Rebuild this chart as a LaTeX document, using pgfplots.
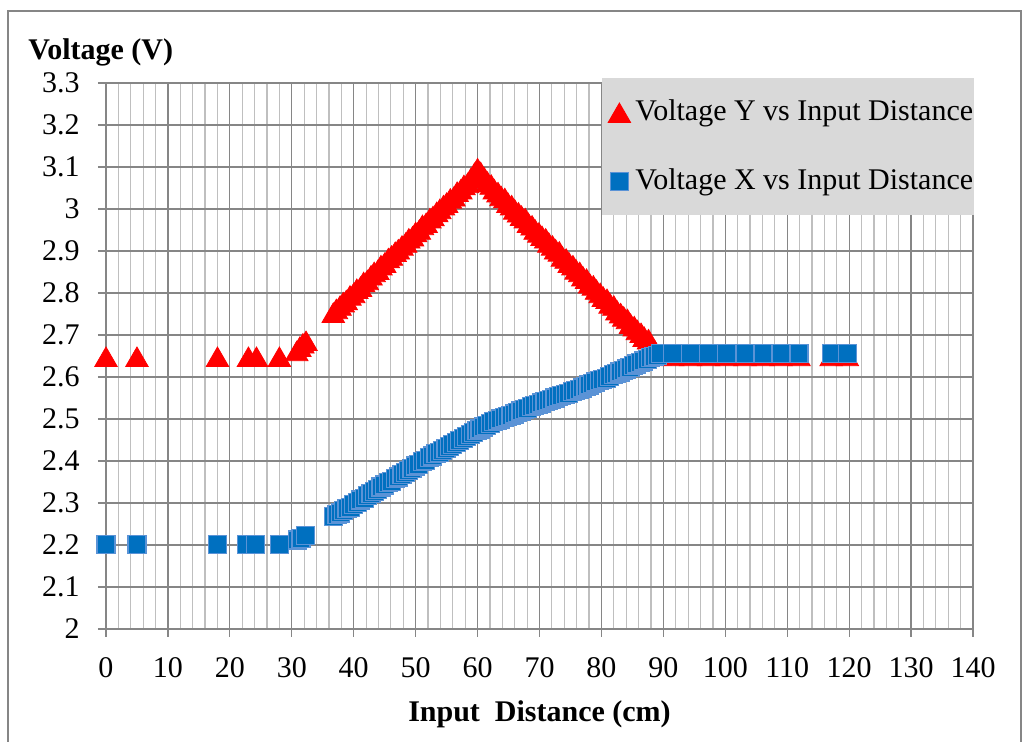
\documentclass[border=0pt]{standalone}
\usepackage{pgfplots}
\usepackage{pgfplotstable}
\pgfplotsset{compat=1.18}
\usepackage{fontspec}
\setmainfont{Liberation Serif}
\definecolor{axgray}{HTML}{868686}
\definecolor{mingray}{HTML}{BFBFBF}
\definecolor{leggray}{HTML}{D9D9D9}
\definecolor{sqfill}{HTML}{0070C0}
\definecolor{sqdraw}{HTML}{5B93D6}
\pgfplotsset{singlemark/.style={legend image code/.code={\draw[##1] plot coordinates {(0pt,0pt)};}}}

\pgfplotstableread{
x y
0 2.648
5 2.648
18 2.648
23 2.648
24.3 2.648
28 2.648
30.8 2.662
31.3 2.672
31.8 2.680
32.3 2.686
36.7 2.753
37.2 2.762
37.8 2.770
38.3 2.778
38.8 2.783
39.4 2.794
40.0 2.800
40.5 2.810
41.1 2.815
41.6 2.826
42.2 2.831
42.8 2.842
43.3 2.850
43.9 2.855
44.4 2.866
45.0 2.872
45.6 2.883
46.1 2.889
46.7 2.898
47.2 2.904
47.8 2.913
48.4 2.920
48.9 2.930
49.5 2.935
50.0 2.945
50.6 2.951
51.1 2.962
51.7 2.967
52.3 2.978
52.8 2.983
53.4 2.993
53.9 3.000
54.5 3.009
55.0 3.015
55.6 3.025
56.2 3.030
56.7 3.041
57.3 3.047
57.8 3.057
58.4 3.062
58.9 3.073
59.5 3.086
60.0 3.097
60.5 3.088
61.1 3.075
61.6 3.065
62.2 3.058
62.7 3.047
63.3 3.040
63.8 3.031
64.4 3.026
64.9 3.015
65.5 3.009
66.0 2.999
66.6 2.992
67.1 2.984
67.7 2.978
68.2 2.967
68.8 2.961
69.3 2.951
69.9 2.944
70.4 2.936
71.0 2.930
71.5 2.920
72.1 2.913
72.6 2.904
73.2 2.899
73.7 2.887
74.3 2.882
74.8 2.872
75.4 2.866
75.9 2.856
76.5 2.850
77.0 2.840
77.6 2.834
78.1 2.823
78.7 2.818
79.2 2.808
79.8 2.800
80.3 2.791
80.9 2.786
81.4 2.775
82.0 2.770
82.5 2.759
83.1 2.752
83.6 2.744
84.2 2.738
84.7 2.727
85.3 2.721
85.8 2.712
86.4 2.705
86.9 2.696
87.6 2.690
88.6 2.664
89.5 2.652
91.5 2.650
94.4 2.650
97.3 2.650
100.2 2.650
103.2 2.650
106.1 2.650
109.0 2.650
111.9 2.650
117.1 2.650
119.7 2.650
}\redtab

\pgfplotstableread{
x y
0 2.202
5 2.202
18 2.202
22.7 2.202
24.2 2.202
28 2.202
30.9 2.212
31.5 2.216
32.2 2.222
36.8 2.268
37.3 2.272
37.9 2.276
38.4 2.282
38.9 2.286
39.5 2.290
40.0 2.296
40.6 2.301
41.1 2.307
41.7 2.311
42.2 2.317
42.8 2.322
43.3 2.328
43.9 2.332
44.4 2.338
45.0 2.343
45.6 2.348
46.1 2.352
46.7 2.358
47.2 2.362
47.8 2.368
48.3 2.372
48.9 2.378
49.4 2.382
50.0 2.388
50.5 2.392
51.1 2.398
51.6 2.402
52.2 2.408
52.7 2.412
53.3 2.417
53.8 2.420
54.4 2.425
54.9 2.430
55.5 2.434
56.0 2.440
56.6 2.444
57.1 2.449
57.7 2.454
58.2 2.458
58.8 2.463
59.3 2.467
59.9 2.472
60.4 2.476
61.0 2.481
61.5 2.485
62.1 2.490
62.6 2.494
63.2 2.497
63.7 2.500
64.3 2.503
64.8 2.506
65.4 2.509
65.9 2.512
66.5 2.516
67.0 2.519
67.6 2.522
68.1 2.525
68.7 2.529
69.2 2.532
69.8 2.535
70.3 2.538
70.9 2.541
71.4 2.544
72.0 2.547
72.5 2.550
73.1 2.553
73.6 2.555
74.2 2.558
74.7 2.561
75.3 2.565
75.8 2.568
76.4 2.571
76.9 2.574
77.5 2.578
78.0 2.581
78.6 2.585
79.1 2.588
79.7 2.591
80.2 2.594
80.8 2.597
81.3 2.601
81.9 2.605
82.4 2.608
83.0 2.612
83.5 2.616
84.1 2.619
84.6 2.623
85.2 2.627
85.7 2.631
86.3 2.634
86.8 2.638
87.4 2.642
87.9 2.646
88.5 2.649
89.0 2.652
89.6 2.655
91.5 2.655
94.4 2.655
97.3 2.655
100.2 2.655
103.2 2.655
106.1 2.655
109.0 2.655
111.9 2.655
117.1 2.655
119.7 2.655
}\bluetab

\begin{document}
\fontsize{15}{18}\selectfont
\begin{tikzpicture}
\useasboundingbox (-53pt,-56.5pt) rectangle (461pt,314.5pt);
\draw[axgray, line width=0.6pt] (-49pt,-58pt) -- (-49pt,309pt) -- (457.5pt,309pt) -- (457.5pt,-58pt);
\begin{axis}[
  at={(0,0)}, anchor=south west, scale only axis,
  width=433.5pt, height=273pt,
  xmin=0, xmax=140, ymin=2, ymax=3.3,
  xtick={0,10,...,140},
  ytick={2,2.1,2.2,2.3,2.4,2.5,2.6,2.7,2.8,2.9,3,3.1,3.2,3.3},
  minor x tick num=4,
  xmajorgrids, xminorgrids, ymajorgrids,
  major grid style={axgray, line width=0.6pt},
  minor grid style={mingray, line width=0.6pt},
  axis line style={axgray, line width=0.6pt},
  tick style={axgray, line width=0.6pt},
  tick align=outside, xtick pos=left, ytick pos=left,
  major tick length=4pt, minor tick length=0pt,
  xticklabel style={yshift=-5pt},
  yticklabel style={xshift=-4pt},
  /pgf/number format/assume math mode=true,
  clip=false,
  xlabel={Input\ \ Distance (cm)},
  ylabel={Voltage (V)},
  every axis x label/.style={at={(axis description cs:0.5,0)}, anchor=base, yshift=-46.5pt, font=\bfseries},
  every axis y label/.style={at={(axis description cs:0,1)}, anchor=base west, xshift=-39pt, yshift=11.5pt, inner sep=0pt, font=\bfseries},
  legend cell align=left,
  legend style={at={(axis description cs:0.5787,0.8828)}, anchor=west, draw=none, fill=none,
    inner sep=0pt, row sep=21.5pt, column sep=2.4pt, nodes={inner sep=0pt}},
]
\addplot[only marks, mark=triangle*, mark size=6.5pt, color=red,
  mark options={yshift=-1.6pt, draw=red, fill=red}, singlemark] table {\redtab};
\addlegendentry{Voltage Y vs Input Distance}
\addplot[only marks, mark=square*, mark size=4.5pt, color=sqfill,
  mark options={draw=sqdraw, fill=sqfill, line width=0.6pt}, singlemark] table {\bluetab};
\addlegendentry{Voltage X vs Input Distance}
\fill[leggray] (rel axis cs:0.5721,0.7582) rectangle (rel axis cs:1.0012,1.0097);
\end{axis}
\end{tikzpicture}
\end{document}
